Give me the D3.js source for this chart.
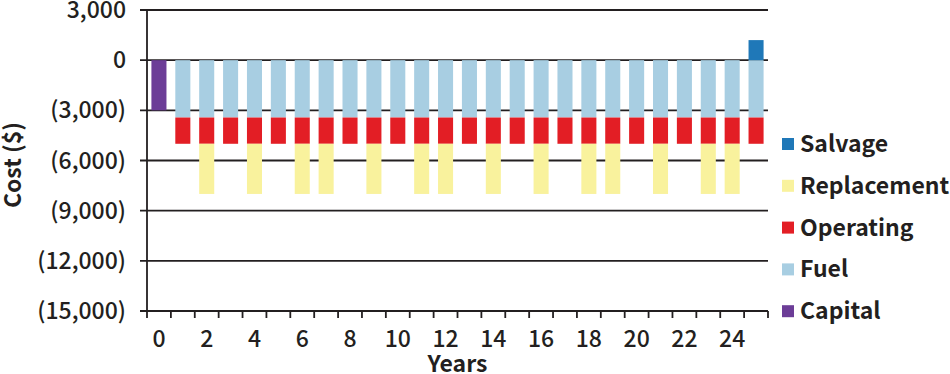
<!DOCTYPE html>
<html>
<head>
<meta charset="utf-8">
<script src="https://cdn.jsdelivr.net/npm/d3@7"></script>
<style>
  body { margin: 0; background: #fff; }
  text { font-family: "Noto Sans CJK SC", "Noto Sans", sans-serif; fill: #231f20; font-weight: 500; }
</style>
</head>
<body>
<div id="chart"></div>
<script>
// data
const years = d3.range(0, 26);
const capital = [3000].concat(d3.range(25).map(() => 0));
const fuel = [0].concat(d3.range(25).map(() => 3430));
const operating = [0].concat(d3.range(25).map(() => 1570));
const replacementYears = [2, 4, 6, 7, 9, 11, 12, 14, 16, 18, 19, 21, 23, 24];
const replacement = years.map(y => replacementYears.includes(y) ? 3000 : 0);
const salvage = years.map(y => y === 25 ? 1200 : 0);
const yTicks = [3000, 0, -3000, -6000, -9000, -12000, -15000];
const xTickLabels = [0, 2, 4, 6, 8, 10, 12, 14, 16, 18, 20, 22, 24];

const seriesNames = ['Capital', 'Fuel', 'Operating', 'Replacement', 'Salvage'];
const colors = {
    Capital: '#6c3d97',
    Fuel: '#a8cee2',
    Operating: '#e31e25',
    Replacement: '#f9f29d',
    Salvage: '#1f78b8'
};

// constants for svg
const margin = { top: 10, right: 182, bottom: 63, left: 147 };
const width = 950 - margin.left - margin.right;
const height = 374 - margin.top - margin.bottom;

const svg = d3.select('#chart')
    .append('svg')
    .attr('width', 950)
    .attr('height', 374)
    .append('g')
    .attr('transform', 'translate(' + margin.left + ',' + margin.top + ')');

const x = d3.scaleBand()
    .domain(years)
    .range([0, width])
    .paddingInner(0.37)
    .paddingOuter(0.185);

const y = d3.scaleLinear()
    .domain([-15000, 3000])
    .range([height, 0]);

// gridlines
svg.append('g')
    .selectAll('line')
    .data(yTicks)
    .join('line')
    .attr('x1', -7)
    .attr('x2', width)
    .attr('y1', d => y(d))
    .attr('y2', d => y(d))
    .attr('stroke', '#231f20')
    .attr('stroke-width', 1.8);

// y tick labels
const fmt = d3.format(',');
svg.append('g')
    .selectAll('text')
    .data(yTicks)
    .join('text')
    .attr('x', -21)
    .attr('y', d => y(d))
    .attr('dy', '0.35em')
    .attr('text-anchor', 'end')
    .style('font-size', '23px')
    .text(d => d < 0 ? '(' + fmt(-d) + ')' : fmt(d));

// stacked bars: negatives stack down from 0, salvage positive
const negSeries = [
    { key: 'Capital', values: capital },
    { key: 'Fuel', values: fuel },
    { key: 'Operating', values: operating },
    { key: 'Replacement', values: replacement }
];
const rects = [];
years.forEach((yr, i) => {
    let base = 0;
    negSeries.forEach(s => {
        const v = s.values[i];
        if (v > 0) {
            rects.push({ year: yr, key: s.key, y0: base, y1: base - v });
            base -= v;
        }
    });
    if (salvage[i] > 0) {
        rects.push({ year: yr, key: 'Salvage', y0: 0, y1: salvage[i] });
    }
});

svg.append('g')
    .selectAll('rect')
    .data(rects)
    .join('rect')
    .attr('x', d => x(d.year))
    .attr('width', x.bandwidth())
    .attr('y', d => y(Math.max(d.y0, d.y1)))
    .attr('height', d => Math.abs(y(d.y0) - y(d.y1)))
    .attr('fill', d => colors[d.key]);

// y axis line
svg.append('line')
    .attr('x1', 0).attr('x2', 0)
    .attr('y1', 0).attr('y2', height)
    .attr('stroke', '#231f20')
    .attr('stroke-width', 1.8);

// x axis ticks at band edges
const edges = d3.range(0, 27).map(i => i * (width / 26));
svg.append('g')
    .selectAll('line')
    .data(edges)
    .join('line')
    .attr('x1', d => d).attr('x2', d => d)
    .attr('y1', height).attr('y2', height + 7)
    .attr('stroke', '#231f20')
    .attr('stroke-width', 1.8);

// x tick labels
svg.append('g')
    .selectAll('text')
    .data(xTickLabels)
    .join('text')
    .attr('x', d => x(d) + x.bandwidth() / 2)
    .attr('y', height + 28)
    .attr('dy', '0.35em')
    .attr('text-anchor', 'middle')
    .style('font-size', '23px')
    .text(d => d);

// axis titles
svg.append('text')
    .attr('x', width / 2)
    .attr('y', height + 53)
    .attr('dy', '0.35em')
    .attr('text-anchor', 'middle')
    .style('font-size', '23px')
    .style('font-weight', 'bold')
    .text('Years');

svg.append('text')
    .attr('transform', 'translate(' + (13 - margin.left) + ',' + (165 - margin.top) + ') rotate(-90)')
    .attr('dy', '0.35em')
    .attr('text-anchor', 'middle')
    .style('font-size', '23px')
    .style('font-weight', 'bold')
    .text('Cost ($)');

// legend
const legendItems = seriesNames.slice().reverse();
const legend = svg.append('g')
    .attr('transform', 'translate(' + (782 - margin.left) + ',' + (144 - margin.top) + ')');

legend.selectAll('rect')
    .data(legendItems)
    .join('rect')
    .attr('x', 0)
    .attr('y', (d, i) => i * 41.8 - 6)
    .attr('width', 12)
    .attr('height', 12)
    .attr('fill', d => colors[d]);

legend.selectAll('text')
    .data(legendItems)
    .join('text')
    .attr('x', 18)
    .attr('y', (d, i) => i * 41.8)
    .attr('dy', '0.35em')
    .style('font-size', '23px')
    .style('font-weight', 'bold')
    .text(d => d);
</script>
</body>
</html>
